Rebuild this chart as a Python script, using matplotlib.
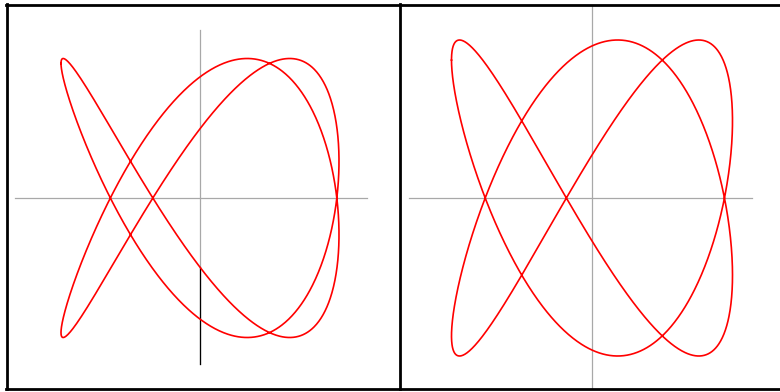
import numpy as np
import matplotlib
matplotlib.use("Agg")
import matplotlib.pyplot as plt

# curvas de Lissajous x = -cos(a t), y = cos(b t + fase)
frec_x = [2, 2]
frec_y = [3, 3]
fases = [0.266, 0.51]

# escala de cada panel (px por unidad) y centro en px
escala_x = [139, 140.5]
escala_y = [139.5, 158]
centro_x = [200, 592]
centro_y = [198, 198]

# bordes de los paneles en px
panel_x = [(7, 400), (400, 780)]
panel_y = (5, 389)
eje_h = [(15, 367), (409, 752)]
eje_v = [(30, 364), (5, 389)]

W, H = 780, 392
fig = plt.figure(figsize=(W / 100, H / 100), dpi=100)

t = np.linspace(0, 2 * np.pi, 2000)

for i in range(2):
    x0, x1 = panel_x[i]
    y0, y1 = panel_y
    ax = fig.add_axes([x0 / W, 1 - y1 / H, (x1 - x0) / W, (y1 - y0) / H])
    cx, cy = centro_x[i], centro_y[i]
    sx, sy = escala_x[i], escala_y[i]
    ax.set_xlim((x0 - cx) / sx, (x1 - cx) / sx)
    ax.set_ylim(-(y1 - cy) / sy, (cy - y0) / sy)
    ax.axis("off")

    # ejes cartesianos grises
    h0, h1 = eje_h[i]
    ax.plot([(h0 - cx) / sx, (h1 - cx) / sx], [0, 0], color="#a8a8a8", lw=0.9)
    v0, v1 = eje_v[i]
    ax.plot([0, 0], [(cy - v0) / sy, -(v1 - cy) / sy], color="#a8a8a8", lw=0.9)
    if i == 0:
        # tramo inferior del eje vertical en negro
        ax.plot([0, 0], [(cy - 267) / sy, -(v1 - cy) / sy], color="black", lw=0.9)

    x = -np.cos(frec_x[i] * t)
    y = np.cos(frec_y[i] * t + fases[i])
    ax.plot(x, y, color="#ff0000", lw=1.2, solid_joinstyle="round")

# marco de los paneles
marco = fig.add_axes([0, 0, 1, 1], zorder=5)
marco.set_xlim(0, W)
marco.set_ylim(H, 0)
marco.axis("off")
marco.patch.set_alpha(0)
marco.plot([6, W], [4.5, 4.5], color="black", lw=2)
marco.plot([6, W], [388.5, 388.5], color="black", lw=2)
marco.plot([6.5, 6.5], [4, 389], color="black", lw=2)
marco.plot([400, 400], [4, 389], color="black", lw=2)

fig.savefig("out.png", dpi=100)
